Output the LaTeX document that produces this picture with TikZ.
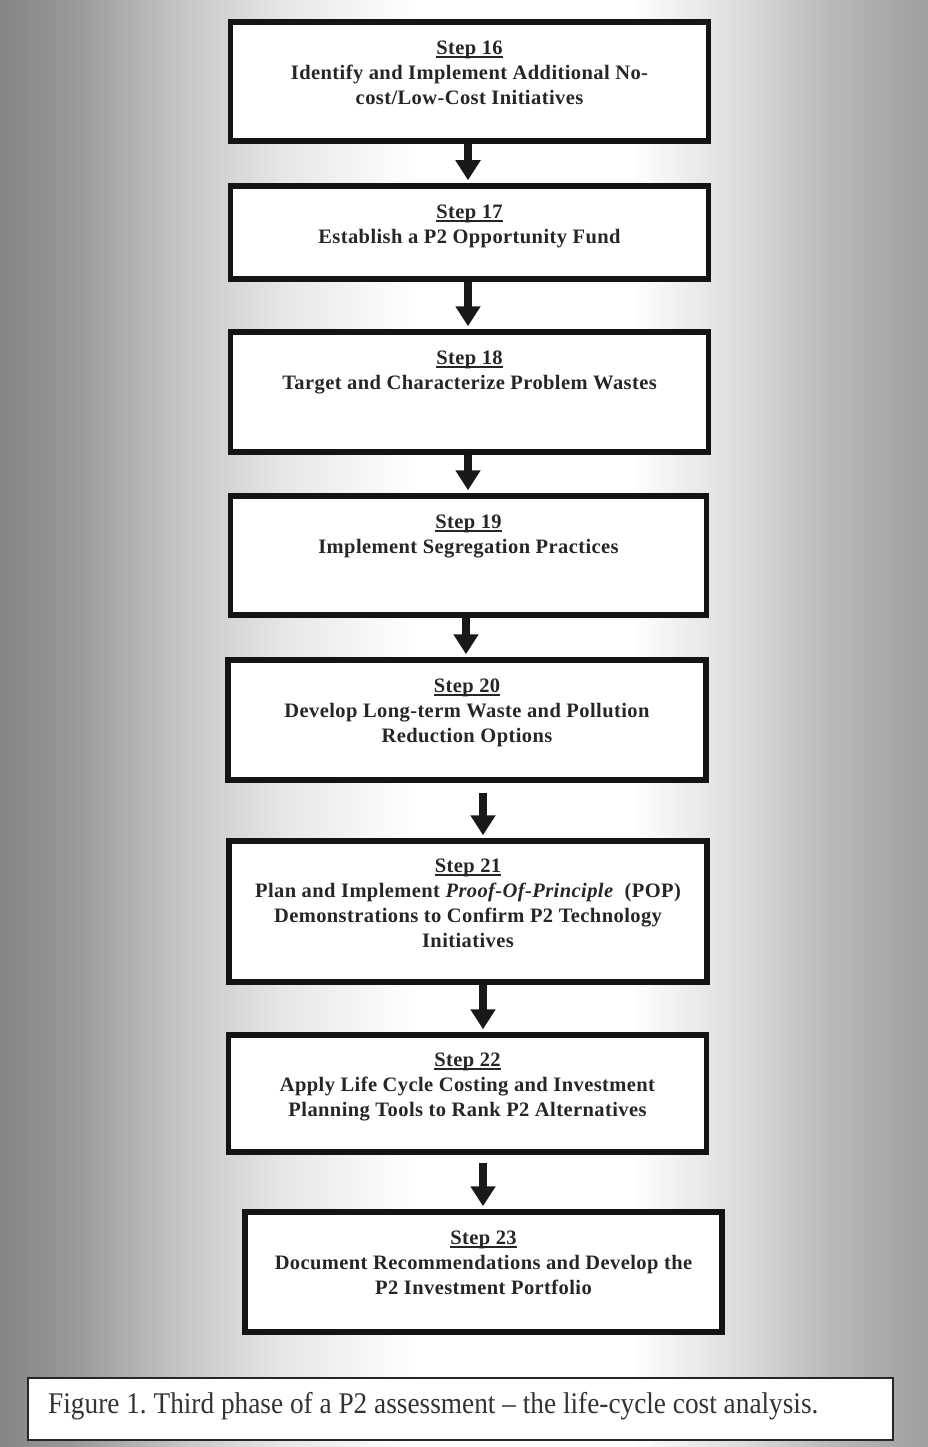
\documentclass[tikz,border=0pt]{standalone}
\usepackage{fontspec}
\setmainfont{Liberation Serif}
\newfontfamily\stepfont[LetterSpace=2,Ligatures=TeX]{Liberation Serif}
\newfontfamily\capfont[FakeStretch=0.91,Ligatures=TeX]{Liberation Serif}
\usetikzlibrary{arrows.meta}
\frenchspacing

% page background: grey at the sides, fading to white in the middle
\pgfdeclarehorizontalshading{pagefade}{100bp}{%
  color(0bp)=(black!48); color(25bp)=(black!48);
  color(29bp)=(black!40); color(35bp)=(black!22);
  color(40bp)=(black!10); color(45bp)=(black!3);
  color(47.5bp)=(white); color(59bp)=(white);
  color(65bp)=(black!14); color(70bp)=(black!28);
  color(75bp)=(black!38); color(100bp)=(black!38)}

% underlined step number with a heavier rule
\newcommand\stepline[1]{\setbox0\hbox{#1}\rlap{\rule[-3.5pt]{\wd0}{1.6pt}}\box0}

\tikzset{
  stepbox/.style={draw=black!92, line width=5.5pt, fill=white, inner sep=0pt},
  steptext/.style={anchor=north, inner sep=0pt, align=center,
    font=\stepfont\bfseries\fontsize{20.5}{25}\selectfont, text=black!85},
  flow/.style={draw=black!90, line width=8pt,
    -{Triangle[width=24pt,length=20pt]}},
  capbox/.style={draw=black!85, line width=2pt, fill=white, inner sep=0pt},
  captext/.style={anchor=base west, inner sep=0pt,
    font=\capfont\fontsize{30}{34}\selectfont, text=black!80}
}

\begin{document}
\begin{tikzpicture}[x=1pt, y=-1pt]
  \useasboundingbox (0,0) rectangle (928,1447);
  \shade[shading=pagefade] (0,0) rectangle (928,1447);

  % step boxes
  \node[stepbox, minimum width=478, minimum height=119] (s16) at (469.5,81.5) {};
  \node[stepbox, minimum width=478, minimum height=93]  (s17) at (469.5,232.5) {};
  \node[stepbox, minimum width=478, minimum height=120] (s18) at (469.5,392) {};
  \node[stepbox, minimum width=476, minimum height=119] (s19) at (468.5,555.5) {};
  \node[stepbox, minimum width=478, minimum height=120] (s20) at (467,720) {};
  \node[stepbox, minimum width=478, minimum height=141] (s21) at (468,911.5) {};
  \node[stepbox, minimum width=478, minimum height=117] (s22) at (467.5,1093.5) {};
  \node[stepbox, minimum width=477, minimum height=120] (s23) at (483.5,1272) {};

  % box texts
  \node[steptext] (t16) at ([yshift=-21pt]s16.north) {\stepline{Step 16}\\Identify and Implement Additional No-\\cost/Low-Cost Initiatives};
  \node[steptext] (t17) at ([yshift=-21pt]s17.north) {\stepline{Step 17}\\Establish a P2 Opportunity Fund};
  \node[steptext] (t18) at ([yshift=-21pt]s18.north) {\stepline{Step 18}\\Target and Characterize Problem Wastes};
  \node[steptext] (t19) at ([yshift=-21pt]s19.north) {\stepline{Step 19}\\Implement Segregation Practices};
  \node[steptext] (t20) at ([yshift=-21pt]s20.north) {\stepline{Step 20}\\Develop Long-term Waste and Pollution\\Reduction Options};
  \node[steptext] (t21) at ([yshift=-20pt]s21.north) {\stepline{Step 21}\\Plan and Implement \textit{Proof-Of-Principle}\ \ (POP)\\Demonstrations to Confirm P2 Technology\\Initiatives};
  \node[steptext] (t22) at ([yshift=-20pt]s22.north) {\stepline{Step 22}\\Apply Life Cycle Costing and Investment\\Planning Tools to Rank P2 Alternatives};
  \node[steptext] (t23) at ([yshift=-21pt]s23.north) {\stepline{Step 23}\\Document Recommendations and Develop the\\P2 Investment Portfolio};

  % arrow columns
  \coordinate (ua) at (468,0);
  \coordinate (ub) at (466,0);
  \coordinate (la) at (483,0);

  % connectors
  \draw[flow] (s16.south -| ua) -- ([yshift=3pt]s17.north -| ua);
  \draw[flow] (s17.south -| ua) -- ([yshift=3pt]s18.north -| ua);
  \draw[flow] (s18.south -| ua) -- ([yshift=3pt]s19.north -| ua);
  \draw[flow] (s19.south -| ub) -- ([yshift=3pt]s20.north -| ub);
  \draw[flow, shorten <=10pt] (s20.south -| la) -- ([yshift=3pt]s21.north -| la);
  \draw[flow] (s21.south -| la) -- ([yshift=3pt]s22.north -| la);
  \draw[flow, shorten <=8pt] (s22.south -| la) -- ([yshift=3pt]s23.north -| la);

  % caption
  \node[capbox, minimum width=865, minimum height=62] (cap) at (460.5,1409) {};
  \node[captext] (capt) at ([xshift=21pt,yshift=-4pt]cap.west) {Figure 1. Third phase of a P2 assessment \textendash\ the life-cycle cost analysis.};
\end{tikzpicture}
\end{document}
